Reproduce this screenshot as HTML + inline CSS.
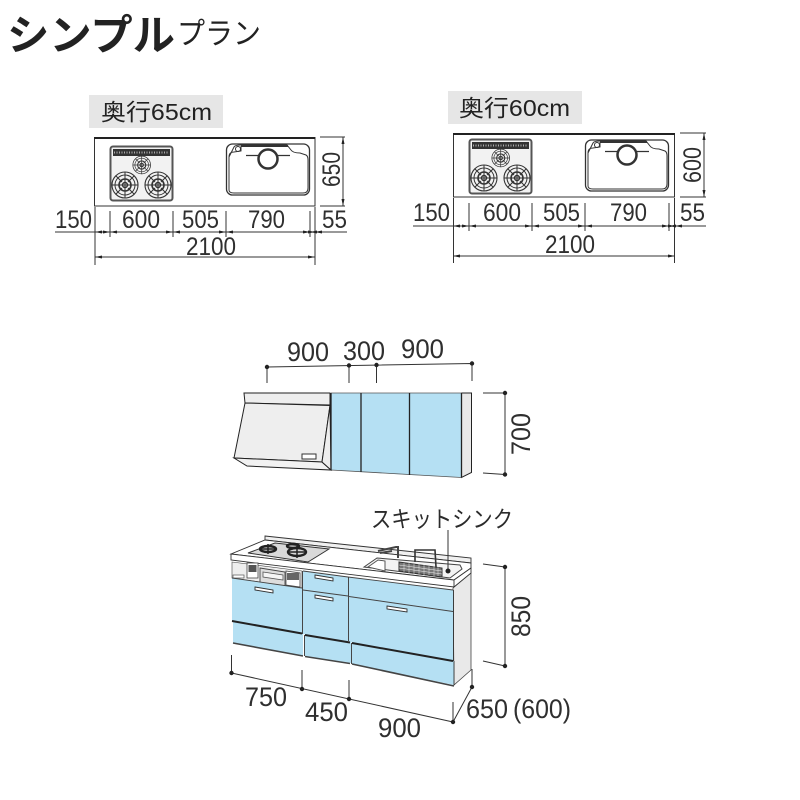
<!DOCTYPE html>
<html><head><meta charset="utf-8"><style>
html,body{margin:0;padding:0;background:#fff;width:800px;height:800px;overflow:hidden}
svg{display:block}
.t{font-family:"Liberation Sans",sans-serif;fill:#2f2f2f;font-size:25px}
.u{font-size:27px}
.l{stroke:#333;stroke-width:1;fill:none}
.d{fill:#222}
.j{font-family:"Liberation Sans","Noto Sans CJK JP",sans-serif;fill:#222}
.b{fill:#b5e0f3;stroke:none}
.k{stroke:#222;stroke-width:1;fill:#eee}
</style></head><body>
<svg width="800" height="800" viewBox="0 0 800 800" xmlns="http://www.w3.org/2000/svg">
<defs>
<g id="burner" fill="none" stroke="#333">
<circle r="13" stroke-width="1.1"/><circle r="10" stroke-width="1"/><circle r="6" stroke-width="1.6"/><circle r="2.5" stroke-width="1.5"/>
<path d="M-13 0H13M0-13V13M-9-9L-3-3M9-9L3-3M-9 9L-3 3M9 9L3 3" stroke-width="1"/>
</g>
<g id="hob">
<rect x="110.5" y="146.5" width="62" height="54" rx="2.5" fill="#f2f2f2" stroke="#555" stroke-width="2"/>
<rect x="113" y="149" width="57" height="7" fill="#333"/>
<path d="M114 152.500H169" stroke="#aaa" stroke-width="2" stroke-dasharray="1 1.500"/>
<use href="#burner" transform="translate(141.700 165) scale(.68)"/>
<use href="#burner" transform="translate(125 185)"/>
<use href="#burner" transform="translate(158 185)"/>
</g>
<g id="sink" fill="none" stroke="#333">
<rect x="226.500" y="144" width="83" height="51" rx="6" fill="#fff" stroke-width="1.300"/>
<path d="M229 190V157Q229 152 234 152L241 151V146M229 157L234 147Q235 145 241 145H287L291 150Q293 153 300 153L306 155Q308 156 308 160V188Q308 193 303 193H234Q229 193 229 190" stroke-width="1"/>
<path d="M241 146H288" stroke-width="2"/>
<circle cx="238" cy="149" r="2.500" stroke-width="1"/>
<path d="M246 155.500H290" stroke-width="1.300"/>
<circle cx="268" cy="159" r="9.500" fill="#fff" stroke-width="2.500"/>
</g>
</defs>

<!-- Title -->
<text x="7" y="50" class="j" style="font-size:42px;font-weight:700" textLength="168" lengthAdjust="spacingAndGlyphs">シンプル</text>
<text x="177" y="44" class="j" style="font-size:30px" textLength="84" lengthAdjust="spacingAndGlyphs">プラン</text>

<!-- Left plan -->
<rect x="89" y="95" width="134" height="33" fill="#e6e6e6"/>
<text x="101" y="120" class="j" style="font-size:23px" textLength="111" lengthAdjust="spacingAndGlyphs">奥行65cm</text>
<rect x="94.500" y="137.500" width="220.500" height="68.500" fill="#fff" stroke="#333" stroke-width="1"/>
<path d="M94 138H315" stroke="#222" stroke-width="2"/>
<use href="#hob"/><use href="#sink"/>
<path class="l" d="M55 232H347M95 257H315M95 207V265M315 207V265M110 211V237M173 211V237M226 211V237M310 211V237M320 137H345M320 206H345M343 137V206"/>
<path class="d" d="M95 232l7-1.500v3zM110 232l-7-1.500v3zM110 232l7-1.500v3zM173 232l-7-1.500v3zM173 232l7-1.500v3zM226 232l-7-1.500v3zM226 232l7-1.500v3zM310 232l-7-1.500v3zM310 232l7-1.500v3zM315 232l-7-1.500v3zM315 232l7-1.500v3zM95 257l7-1.500v3zM315 257l-7-1.500v3zM343 137l-1.500 7h3zM343 206l-1.500-7h3z"/>
<text class="t" x="55" y="228" textLength="37" lengthAdjust="spacingAndGlyphs">150</text>
<text class="t" x="122" y="228" textLength="38" lengthAdjust="spacingAndGlyphs">600</text>
<text class="t" x="182" y="228" textLength="37" lengthAdjust="spacingAndGlyphs">505</text>
<text class="t" x="248" y="228" textLength="37" lengthAdjust="spacingAndGlyphs">790</text>
<text class="t" x="322" y="228" textLength="25" lengthAdjust="spacingAndGlyphs">55</text>
<text class="t" x="186" y="255" textLength="50" lengthAdjust="spacingAndGlyphs">2100</text>
<text class="t" transform="translate(340 187) rotate(-90)" textLength="35" lengthAdjust="spacingAndGlyphs">650</text>

<!-- Right plan -->
<rect x="448" y="91" width="134" height="33" fill="#e6e6e6"/>
<text x="459" y="116" class="j" style="font-size:23px" textLength="111" lengthAdjust="spacingAndGlyphs">奥行60cm</text>
<rect x="453.500" y="133.500" width="221" height="63.500" fill="#fff" stroke="#333" stroke-width="1"/>
<path d="M453 134H675" stroke="#222" stroke-width="2"/>
<use href="#hob" transform="translate(359 -7)"/><use href="#sink" transform="translate(359 -4)"/>
<path class="l" d="M413 226H706M453 256H675M453.500 198V263M674.500 198V263M469 203V231M532 203V231M585 203V231M669 203V231M680 133H706M680 197H706M704 133V197"/>
<path class="d" d="M453 226l7-1.500v3zM469 226l-7-1.500v3zM469 226l7-1.500v3zM532 226l-7-1.500v3zM532 226l7-1.500v3zM585 226l-7-1.500v3zM585 226l7-1.500v3zM669 226l-7-1.500v3zM669 226l7-1.500v3zM675 226l-7-1.500v3zM675 226l7-1.500v3zM453 256l7-1.500v3zM675 256l-7-1.500v3zM704 133l-1.500 7h3zM704 197l-1.500-7h3z"/>
<text class="t" x="413" y="221" textLength="37" lengthAdjust="spacingAndGlyphs">150</text>
<text class="t" x="483" y="221" textLength="38" lengthAdjust="spacingAndGlyphs">600</text>
<text class="t" x="543" y="221" textLength="37" lengthAdjust="spacingAndGlyphs">505</text>
<text class="t" x="610" y="221" textLength="37" lengthAdjust="spacingAndGlyphs">790</text>
<text class="t" x="680" y="221" textLength="25" lengthAdjust="spacingAndGlyphs">55</text>
<text class="t" x="545" y="253" textLength="50" lengthAdjust="spacingAndGlyphs">2100</text>
<text class="t" transform="translate(701 183) rotate(-90)" textLength="36" lengthAdjust="spacingAndGlyphs">600</text>

<!-- Upper cabinets dims -->
<text class="t u" x="287" y="361" textLength="42" lengthAdjust="spacingAndGlyphs">900</text>
<text class="t u" x="343" y="360" textLength="42" lengthAdjust="spacingAndGlyphs">300</text>
<text class="t u" x="401" y="358" textLength="43" lengthAdjust="spacingAndGlyphs">900</text>
<path class="l" d="M267 367L472 363.500M267 367V383M349 365.500V383M376.500 365V383M472 363.500V381M483 393H505M483 473L505 474.500M505 393V474.500"/>
<g class="d"><circle cx="267" cy="367" r="2.200"/><circle cx="349" cy="365.500" r="2.200"/><circle cx="376.500" cy="365" r="2.200"/><circle cx="472" cy="363.500" r="2.200"/><circle cx="505" cy="393" r="2.200"/><circle cx="505" cy="474.500" r="2.200"/></g>
<text class="t u" transform="translate(530 455) rotate(-90)" textLength="42" lengthAdjust="spacingAndGlyphs">700</text>

<!-- Hood -->
<path class="k" d="M244 393H330V405L245 403Z"/>
<path class="k" d="M245 403L330 405.500L322 462L234 458Z"/>
<path class="k" d="M234 458L322 462L331 470L247 466Z" style="fill:#f2f2f2"/>
<path class="k" d="M330 405.500L331 470L322 462Z"/>
<rect x="302" y="454" width="14" height="5" fill="#fff" stroke="#333"/>
<path class="b" d="M331 393H361V472L331 470Z"/>
<path class="b" d="M361 393H409.500V475L361 472Z"/>
<path class="b" d="M409.500 393H461.500V477.500L409.500 475Z"/>
<path class="k" d="M461.500 393H471.500V472.500L461.500 477.500Z" style="fill:#e8e8e8"/>
<path d="M331 393H462M331 470L461.500 477.500" stroke="#555" stroke-width=".8" fill="none"/>
<path d="M461.500 393V477.500M361 393V472M409.500 393V475M331 393V470" stroke="#222" stroke-width="1.300"/>

<!-- Lower unit -->
<path d="M453 588L471 572V670L454 685Z" fill="#e9e9e9" stroke="#444" stroke-width=".8"/>
<path d="M232 562L302 571V588L232 578Z" fill="#eee" stroke="#444" stroke-width=".6"/>
<path d="M265 536L471 558V563L265 540Z" fill="#f0f0f0" stroke="#333" stroke-width=".9"/>
<path d="M265 540L471 563V568L454 580L231 554Z" fill="#fff" stroke="#333" stroke-width=".9"/>
<path d="M231 554V560L454 587V580ZM454 580V587L471 573V568Z" fill="#fff" stroke="#333" stroke-width=".9"/>
<!-- cooktop -->
<path d="M248 553L275 543L329 549L308 562Z" fill="#d9d9d9" stroke="#333" stroke-width="1"/>
<g fill="none" stroke="#222" stroke-width="2.400"><ellipse cx="268" cy="549" rx="8" ry="3"/><ellipse cx="297" cy="552" rx="9" ry="4"/><ellipse cx="293" cy="546" rx="6" ry="2"/></g>
<path d="M259 549H277M287 552H307M268 544V554M297 546V558" stroke="#222" stroke-width="1.500"/>
<!-- range controls -->
<rect x="247" y="563" width="11" height="15" fill="#fff" stroke="#444" stroke-width=".8"/>
<rect x="248.500" y="565" width="8" height="7" fill="#555"/>
<path d="M260 568L285 572V587L260 584Z" fill="#ddd" stroke="#444" stroke-width=".9"/>
<path d="M263 572L283 575V580L263 577Z" fill="#f5f5f5" stroke="#555" stroke-width=".8"/>
<path d="M286 571L300 573V587L286 585Z" fill="#fff" stroke="#444" stroke-width=".8"/>
<rect x="287" y="573" width="12" height="7" fill="#666"/>
<rect x="233" y="575" width="11" height="3" fill="#fff" stroke="#555" stroke-width=".7"/>
<!-- sink on counter -->
<path d="M364 567L377 558L460 565L462 569L450 578Z" fill="#f4f4f4" stroke="#444" stroke-width="1"/>
<path d="M368 567L378 560L385 561V571Z" fill="#fff" stroke="#555" stroke-width="1"/>
<path d="M399 562L442 568V577L399 571Z" fill="#777" stroke="#333" stroke-width="1"/>
<path d="M399 565L442 571M399 568L442 574M404 563V572M409 563V573M414 564V574M419 564V574M424 565V575M429 566V575M434 566V576M438 567V576" stroke="#eee" stroke-width=".5"/>
<path d="M415 562V550H435L436 567" fill="none" stroke="#333" stroke-width="1.600"/>
<path d="M378 551L396 547L398 547V558M380 553L392 551" fill="none" stroke="#444" stroke-width="2"/>
<!-- doors -->
<path class="b" d="M232 578L302 588V634L232 621Z"/>
<path class="b" d="M233 622L303 634V656L233 643Z"/>
<path class="b" d="M303 571L348 577V596L303 589Z"/>
<path class="b" d="M303 589L348 596V642L303 634Z"/>
<path class="b" d="M305 635L351 642V663L305 656Z"/>
<path class="b" d="M349 577L453 590V611L349 596Z"/>
<path class="b" d="M349 596L453 611V661L349 642Z"/>
<path class="b" d="M352 643L454 661V685L352 664Z"/>
<path d="M232 578L302 588M303 571L348 577L453 590M303 590L348 596M349 596.500L453 611.500" fill="none" stroke="#444" stroke-width=".9"/>
<path d="M232 621L302 633.500M305 635L350 642.500M352 643L453 661" fill="none" stroke="#222" stroke-width="2"/>
<path d="M233 643L303 656M305 656.500L350 663.500M352 664L454 686" fill="none" stroke="#444" stroke-width="1.600"/>
<path d="M302.500 571V634M348.500 577V641M304.500 635V656M351.500 643V664M453.500 590V661M454 661V685" stroke="#333" stroke-width=".9"/>
<g fill="#fff" stroke="#333" stroke-width=".9">
<path d="M255 587L273 590V593L255 590Z"/>
<path d="M315 575L333 578V581L315 578Z"/>
<path d="M315 595L333 598V601L315 598Z"/>
<path d="M387 606L407 609V612L387 609Z"/>
</g>
<!-- lower dims -->
<text class="j" x="371" y="527" style="font-size:23px;fill:#2b2b2b" textLength="142" lengthAdjust="spacingAndGlyphs">スキットシンク</text>
<path class="l" d="M448 530V571"/><circle class="d" cx="448" cy="571" r="2.500"/>
<path class="l" d="M483 564L505 567M483 661L505 666M505 567V666"/>
<circle class="d" cx="505" cy="567" r="2.200"/><circle class="d" cx="505" cy="666" r="2.200"/>
<text class="t u" transform="translate(530 637) rotate(-90)" textLength="41" lengthAdjust="spacingAndGlyphs">850</text>
<path class="l" d="M231.500 655V673L453 722M302 670V689M349 680V699M453 702V722L472 687V669"/>
<g class="d"><circle cx="231.500" cy="673" r="2.200"/><circle cx="302" cy="689" r="2.200"/><circle cx="349" cy="699" r="2.200"/><circle cx="453" cy="722" r="2.200"/><circle cx="472" cy="687" r="2.200"/></g>
<text class="t u" x="245" y="706" textLength="42" lengthAdjust="spacingAndGlyphs">750</text>
<text class="t u" x="305" y="721" textLength="43" lengthAdjust="spacingAndGlyphs">450</text>
<text class="t u" x="378" y="737" textLength="43" lengthAdjust="spacingAndGlyphs">900</text>
<text class="t u" x="466" y="718" textLength="42" lengthAdjust="spacingAndGlyphs">650</text>
<text class="t u" x="513" y="718" textLength="58" lengthAdjust="spacingAndGlyphs">(600)</text>
</svg>
</body></html>
